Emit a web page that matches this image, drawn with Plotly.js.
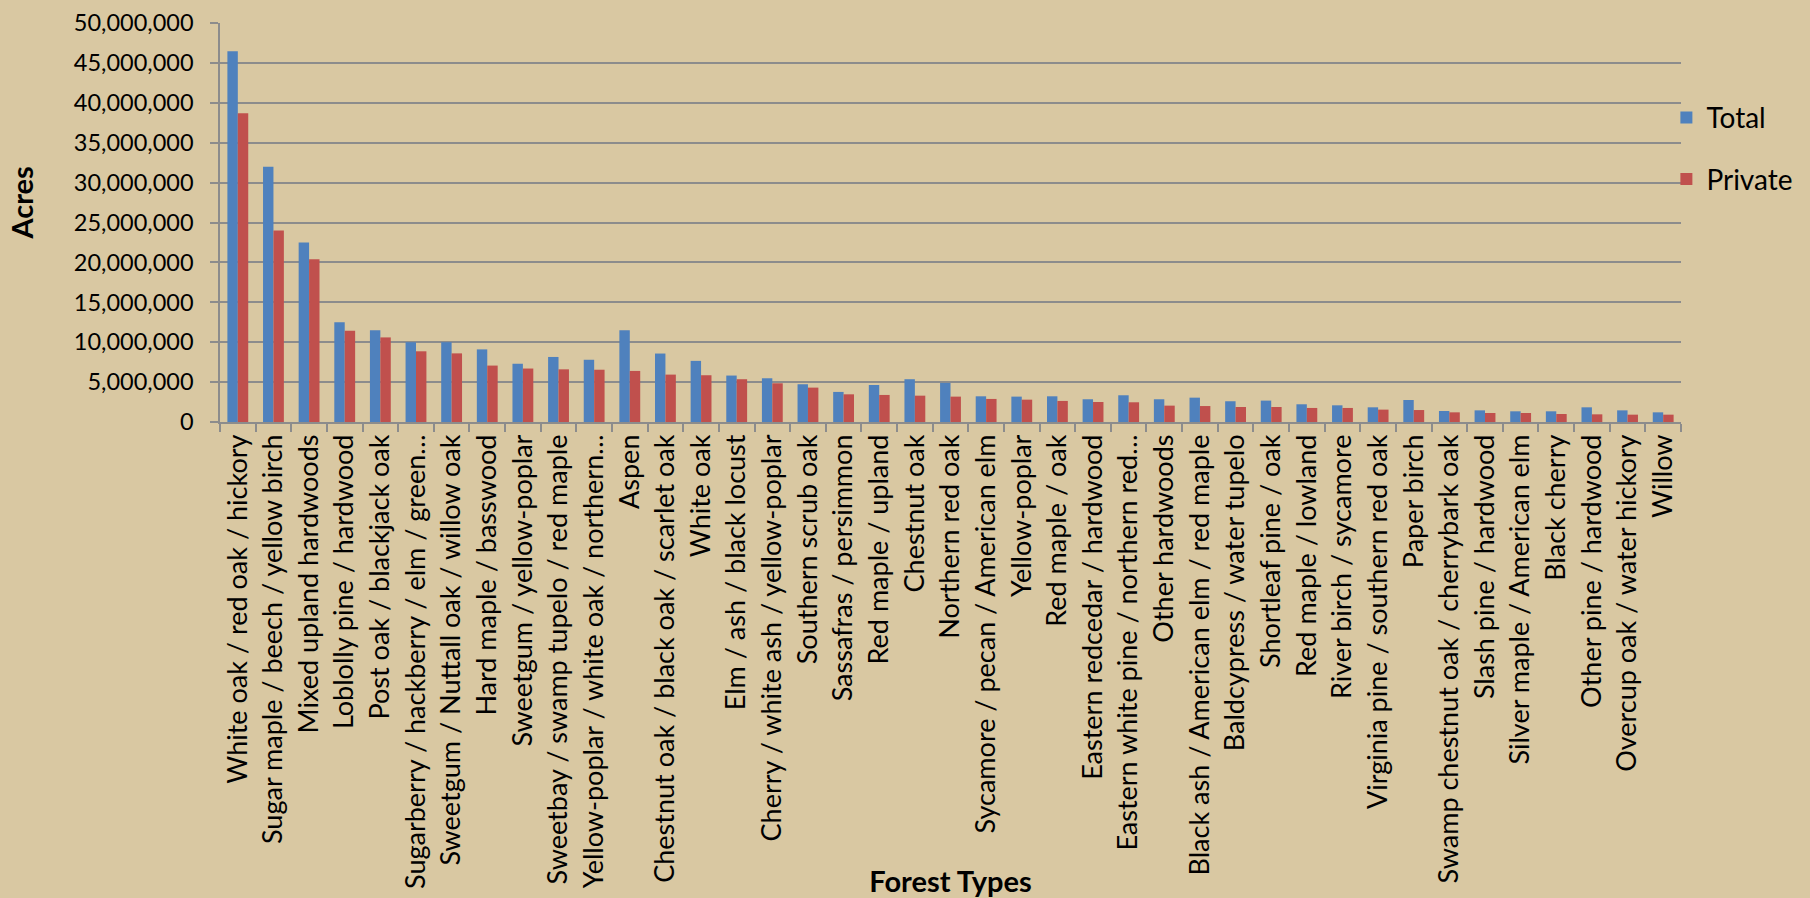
<!DOCTYPE html>
<html>
<head>
<meta charset="utf-8">
<script src="https://cdn.plot.ly/plotly-3.0.1.min.js"></script>
<style>
  html, body { margin: 0; padding: 0; background: #D9C8A2; }
  #chart { width: 1810px; height: 898px; }
</style>
</head>
<body>
<div id="chart"></div>
<script>
const categories = [
  "White oak / red oak / hickory",
  "Sugar maple / beech / yellow birch",
  "Mixed upland hardwoods",
  "Loblolly pine / hardwood",
  "Post oak / blackjack oak",
  "Sugarberry / hackberry / elm / green…",
  "Sweetgum / Nuttall oak / willow oak",
  "Hard maple / basswood",
  "Sweetgum / yellow-poplar",
  "Sweetbay / swamp tupelo / red maple",
  "Yellow-poplar / white oak / northern…",
  "Aspen",
  "Chestnut oak / black oak / scarlet oak",
  "White oak",
  "Elm / ash / black locust",
  "Cherry / white ash / yellow-poplar",
  "Southern scrub oak",
  "Sassafras / persimmon",
  "Red maple / upland",
  "Chestnut oak",
  "Northern red oak",
  "Sycamore / pecan / American elm",
  "Yellow-poplar",
  "Red maple / oak",
  "Eastern redcedar / hardwood",
  "Eastern white pine / northern red…",
  "Other hardwoods",
  "Black ash / American elm / red maple",
  "Baldcypress / water tupelo",
  "Shortleaf pine / oak",
  "Red maple / lowland",
  "River birch / sycamore",
  "Virginia pine / southern red oak",
  "Paper birch",
  "Swamp chestnut oak / cherrybark oak",
  "Slash pine / hardwood",
  "Silver maple / American elm",
  "Black cherry",
  "Other pine / hardwood",
  "Overcup oak / water hickory",
  "Willow"
];

const totalAcres = [
  46450000, 32000000, 22500000, 12500000, 11500000, 10000000, 10000000, 9100000,
  7300000, 8150000, 7800000, 11500000, 8580000, 7660000, 5820000, 5480000,
  4730000, 3770000, 4640000, 5360000, 4900000, 3220000, 3180000, 3220000,
  2850000, 3350000, 2850000, 3050000, 2600000, 2680000, 2220000, 2090000,
  1840000, 2760000, 1380000, 1460000, 1340000, 1340000, 1840000, 1460000,
  1210000
];

const privateAcres = [
  38700000, 24000000, 20400000, 11450000, 10600000, 8860000, 8600000, 7070000,
  6700000, 6600000, 6550000, 6400000, 5940000, 5860000, 5360000, 4850000,
  4310000, 3470000, 3390000, 3300000, 3180000, 2890000, 2800000, 2640000,
  2510000, 2470000, 2050000, 2000000, 1880000, 1880000, 1760000, 1760000,
  1550000, 1500000, 1210000, 1130000, 1130000, 1000000, 960000, 920000,
  920000
];

const seriesNames = ["Total", "Private"];
const yTitle = "Acres";
const xTitle = "Forest Types";

const FONT = "Lato, 'Noto Sans', sans-serif";
const GRID = "#8C8C8C";
const BG = "#D9C8A2";

const data = [
  {
    type: "bar", name: seriesNames[0], x: categories, y: totalAcres,
    marker: { color: "#4F81BD" }, legendgroup: "g1", hoverinfo: "x+y+name"
  },
  {
    type: "bar", name: seriesNames[1], x: categories, y: privateAcres,
    marker: { color: "#C0504D" }, legendgroup: "g2", hoverinfo: "x+y+name"
  }
];

const layout = {
  width: 1810, height: 898,
  paper_bgcolor: BG, plot_bgcolor: BG,
  font: { family: FONT, size: 23, color: "#000" },
  margin: { l: 220, r: 117, t: 23, b: 476 },
  barmode: "group", bargap: 0.415, bargroupgap: 0,
  showlegend: true,
  legend: {
    x: 0.99, xanchor: "left", y: 0.825, yanchor: "top",
    bgcolor: "rgba(0,0,0,0)", font: { family: FONT, size: 28, color: "#000" },
    traceorder: "grouped", tracegroupgap: 22
  },
  xaxis: {
    type: "category", tickangle: -90, tickson: "boundaries",
    ticks: "outside", ticklen: 8, tickcolor: GRID, tickwidth: 1.5,
    showline: true, linecolor: GRID, linewidth: 1.5,
    showgrid: false, automargin: false,
    tickfont: { family: FONT, size: 27, color: "#000" },
    title: { text: "<b>" + xTitle + "</b>", font: { family: FONT, size: 29, color: "#000" }, standoff: 2 }
  },
  yaxis: {
    range: [0, 50000000], dtick: 5000000, tickformat: ",d",
    ticks: "outside", ticklen: 8, tickcolor: GRID, tickwidth: 1.5,
    showline: true, linecolor: GRID, linewidth: 1.5,
    showgrid: true, gridcolor: GRID, gridwidth: 1.5, zeroline: false,
    automargin: false, ticklabelstandoff: 12,
    tickfont: { family: FONT, size: 23.5, color: "#000" }
  },
  annotations: [
    {
      text: "<b>" + yTitle + "</b>", textangle: -90, showarrow: false,
      xref: "paper", x: 0, xanchor: "center", xshift: -198,
      yref: "paper", y: 0.5476, yanchor: "middle",
      font: { family: FONT, size: 29, color: "#000" }
    }
  ]
};

Plotly.newPlot("chart", data, layout, { displayModeBar: false, responsive: false });
</script>
</body>
</html>
